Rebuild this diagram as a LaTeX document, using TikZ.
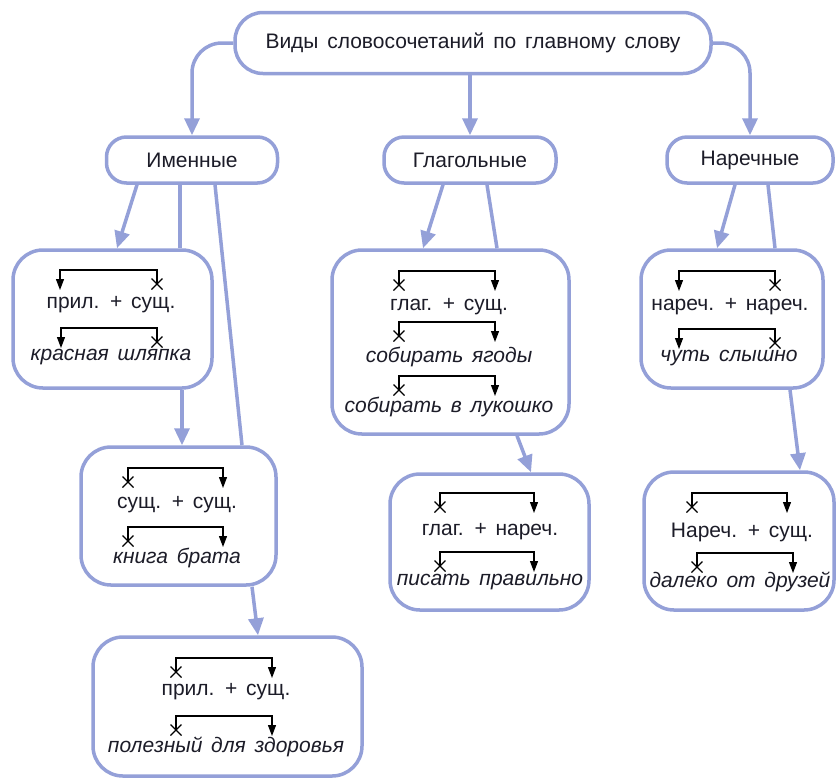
\documentclass[tikz,border=0pt]{standalone}
\usepackage{fontspec}
\setmainfont[WordSpace=1.5]{Liberation Sans}
\definecolor{SirenLine}{HTML}{94A0D8}
\definecolor{TekstCvet}{HTML}{1C1C28}
\usetikzlibrary{arrows.meta}
\usetikzlibrary{calc}
% svyaz: main word x (cross), dependent word x (arrow), bar y
\newcommand{\svyaz}[3]{%
	\draw[podch] (#1,#3+14) -- (#1,#3) -| (#2,#3+20);
	\draw[krest] (#1,#3+14) +(-5.5,-5.5) -- +(5.5,5.5) +(-5.5,5.5) -- +(5.5,-5.5);}

\begin{document}
\begin{tikzpicture}
	[x=1pt, y=-1pt,
	every node/.style = {text=TekstCvet, font=\fontsize{21}{24}\selectfont},
	ramka/.style = {shape=rectangle, draw=SirenLine, line width=3.5pt,
		rounded corners=#1, fill=white, inner sep=0pt},
	ramka/.default = 30pt,
	slovo/.style = {inner sep=1pt},
	primer/.style = {inner sep=1pt, font=\fontsize{21}{24}\selectfont\itshape},
	strelka/.style = {draw=SirenLine, line width=3.5pt, -{Triangle[length=17pt, width=15pt]}},
	liniya/.style = {draw=SirenLine, line width=3.5pt},
	podch/.style = {draw=black, line width=1.2pt, -{Triangle[length=11pt, width=8pt]}},
	krest/.style = {draw=black, line width=1.2pt}]
	\useasboundingbox (0,0) rectangle (837,780);
	% top and kinds
	\node[ramka=28pt, minimum width=476pt, minimum height=61pt] (vidy) at (473,43)
		{Виды словосочетаний по главному слову};
	\node[ramka=20pt, minimum width=171pt, minimum height=46pt] (imen) at (192,160) {Именные};
	\node[ramka=20pt, minimum width=172pt, minimum height=46pt] (glag) at (470,160) {Глагольные};
	\node[ramka=20pt, minimum width=166pt, minimum height=46pt] (narech) at (750,160) {Наречные};
	% groups
	\node[ramka, minimum width=199pt, minimum height=138pt] (nomA) at (112.5,319) {};
	\node[ramka, minimum width=195pt, minimum height=138pt] (nomB) at (178.5,516) {};
	\node[ramka, minimum width=269pt, minimum height=139pt] (nomC) at (227.5,706.5) {};
	\node[ramka, minimum width=237pt, minimum height=184pt] (verbA) at (450.5,342) {};
	\node[ramka, minimum width=199pt, minimum height=136pt] (verbB) at (489.5,542) {};
	\node[ramka, minimum width=182pt, minimum height=138pt] (advA) at (732,319) {};
	\node[ramka, minimum width=190pt, minimum height=138pt] (advB) at (739,541) {};
	% texts
	\node[slovo] (nomAs) at (111,305) {прил. + сущ.};
	\node[primer] (nomAp) at (111,357) {красная шляпка};
	\node[slovo] (nomBs) at (177,505) {сущ. + сущ.};
	\node[primer] (nomBp) at (177,558) {книга брата};
	\node[slovo] (nomCs) at (226,692) {прил. + сущ.};
	\node[primer] (nomCp) at (226,747) {полезный для здоровья};
	\node[slovo] (verbAs) at (449,307) {глаг. + сущ.};
	\node[primer] (verbAp) at (449,357) {собирать ягоды};
	\node[primer] (verbAq) at (449,407) {собирать в лукошко};
	\node[slovo] (verbBs) at (490,532) {глаг. + нареч.};
	\node[primer] (verbBp) at (490,582) {писать правильно};
	\node[slovo] (advAs) at (730,307) {нареч. + нареч.};
	\node[primer] (advAp) at (729,358) {чуть слышно};
	\node[slovo] (advBs) at (742,532) {Нареч. + сущ.};
	\node[primer] (advBp) at (740,582) {далеко от друзей};
	% links inside
	\svyaz{157}{60}{270}
	\svyaz{157}{61}{328}
	\svyaz{128}{223}{468}
	\svyaz{128}{223}{527}
	\svyaz{176}{272}{658}
	\svyaz{176}{272}{716}
	\svyaz{399}{495}{271}
	\svyaz{399}{495}{322}
	\svyaz{399}{495}{376}
	\svyaz{440}{534}{493}
	\svyaz{440}{534}{552}
	\svyaz{775}{679}{271}
	\svyaz{775}{679}{329}
	\svyaz{692}{787}{493}
	\svyaz{697}{793}{553}
	% connectors
	\draw[strelka, rounded corners=30pt] (vidy.west) -| (imen.north);
	\draw[strelka, rounded corners=30pt] (vidy.east) -| (narech.north);
	\draw[strelka] (vidy.south -| glag.north) -- (glag.north);
	\draw[strelka] ($(imen.south)+(-55,0)$) -- ($(nomA.north)+(4.5,0)$);
	\draw[liniya] ($(imen.south)+(-12,0)$) -- ($(nomA.north)+(67.5,0)$);
	\draw[strelka] ($(nomA.south)+(69.5,0)$) -- ($(nomB.north)+(3.5,0)$);
	\draw[liniya] ($(imen.south)+(23,0)$) -- ($(nomB.north)+(63.5,0)$);
	\draw[strelka] ($(nomB.south)+(73.5,0)$) -- ($(nomC.north)+(30.5,0)$);
	\draw[strelka] ($(glag.south)+(-27,0)$) -- ($(verbA.north)+(-27.5,0)$);
	\draw[liniya] ($(glag.south)+(17,0)$) -- ($(verbA.north)+(46.5,0)$);
	\draw[strelka] ($(verbA.south)+(66.5,0)$) -- ($(verbB.north)+(41.5,0)$);
	\draw[strelka] ($(narech.south)+(-15,0)$) -- ($(advA.north)+(-15,0)$);
	\draw[liniya] ($(narech.south)+(18,0)$) -- ($(advA.north)+(43,0)$);
	\draw[strelka] ($(advA.south)+(58,0)$) -- ($(advB.north)+(61,0)$);
\end{tikzpicture}
\end{document}
